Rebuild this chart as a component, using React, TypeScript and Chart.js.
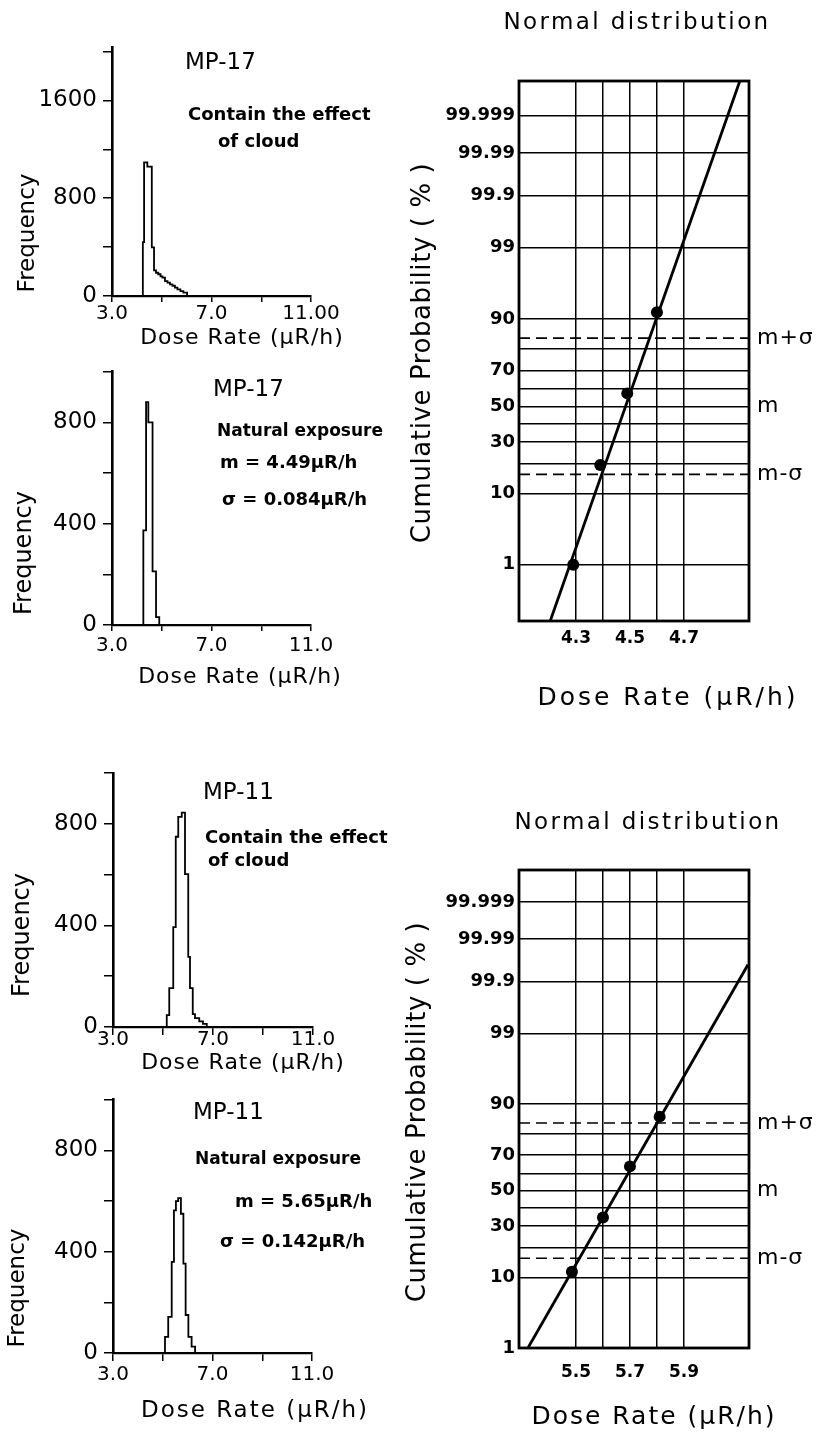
import React, { useEffect, useRef } from 'react';
import { Chart, registerables, Scale } from 'chart.js';

const FONT = '"DejaVu Sans", "Liberation Sans", Arial, sans-serif';

// ---------------- Histogram data (bin edges in μR/h, counts per bin) ----------------
const mp17CloudEdges = [4.24, 4.29, 4.42, 4.6, 4.69, 4.77, 4.86, 4.95, 5.03, 5.13, 5.23, 5.33, 5.43, 5.53, 5.63, 5.75, 5.87, 6.02, 6.17];
const mp17CloudCounts = [54, 440, 1093, 1058, 398, 210, 190, 178, 160, 150, 122, 110, 95, 84, 68, 55, 40, 28];

const mp17NaturalEdges = [4.26, 4.37, 4.46, 4.63, 4.77, 4.9, 5.06];
const mp17NaturalCounts = [25, 374, 880, 800, 212, 31];

const mp11CloudEdges = [5.15, 5.25, 5.41, 5.51, 5.61, 5.75, 5.88, 6.01, 6.08, 6.19, 6.28, 6.45, 6.6, 6.75, 6.88];
const mp11CloudCounts = [21, 47, 153, 393, 749, 827, 844, 602, 276, 153, 51, 35, 22, 12];

const mp11NaturalEdges = [5.09, 5.22, 5.36, 5.45, 5.53, 5.62, 5.73, 5.83, 5.92, 6.03, 6.16, 6.3, 6.5];
const mp11NaturalCounts = [20, 64, 143, 360, 563, 600, 612, 550, 353, 150, 64, 25];

const histXTicks = [3, 5, 7, 9, 11];
const histXLabelsFirst = ['3.0', '', '7.0', '', '11.00'];
const histXLabels = ['3.0', '', '7.0', '', '11.0'];
const histYTicksLarge = [0, 400, 800, 1200, 1600, 2000];
const histYLabelsLarge = ['0', '', '800', '', '1600', ''];
const histYTicksSmall = [0, 200, 400, 600, 800, 1000];
const histYLabelsSmall = ['0', '', '400', '', '800', ''];

// ---------------- Normal probability plots ----------------
const probGrid = [1, 10, 20, 30, 40, 50, 60, 70, 80, 90, 99, 99.9, 99.99, 99.999];
const probLabels = ['1', '10', '', '30', '', '50', '', '70', '', '90', '99', '99.9', '99.99', '99.999'];

const mp17DoseGrid = [4.3, 4.4, 4.5, 4.6, 4.7];
const mp17DoseLabels = ['4.3', '', '4.5', '', '4.7'];
const mp11DoseGrid = [5.5, 5.6, 5.7, 5.8, 5.9];
const mp11DoseLabels = ['5.5', '', '5.7', '', '5.9'];

const mp17PointDose = [4.29, 4.39, 4.49, 4.6];
const mp17PointPct = [1.0, 19.4, 57.5, 91.6];
const mp17FitDose = [4.204, 4.907];
const mp17FitPct = [0.079, 99.99991];

const mp11PointDose = [5.485, 5.6, 5.7, 5.81];
const mp11PointPct = [11.5, 34.5, 64.0, 86.3];
const mp11FitDose = [5.322, 6.137];
const mp11FitPct = [1.0, 99.958];

const sigmaDashPct = [15.87, 84.13];
const sigmaBandPct = [15.87, 50, 84.13];
const sigmaBandLabels = ['m-σ', 'm', 'm+σ'];

// ---------------- helpers ----------------
function probit(pct: number): number {
  let p = pct / 100;
  p = Math.min(Math.max(p, 1e-12), 1 - 1e-12);
  const a = [-3.969683028665376e1, 2.209460984245205e2, -2.759285104469687e2, 1.38357751867269e2, -3.066479806614716e1, 2.506628277459239];
  const b = [-5.447609879822406e1, 1.615858368580409e2, -1.556989798598866e2, 6.680131188771972e1, -1.328068155288572e1];
  const c = [-7.784894002430293e-3, -3.223964580411365e-1, -2.400758277161838, -2.549732539343734, 4.374664141464968, 2.938163982698783];
  const d = [7.784695709041462e-3, 3.224671290700398e-1, 2.445134137142996, 3.754408661907416];
  const plow = 0.02425;
  if (p < plow) {
    const q = Math.sqrt(-2 * Math.log(p));
    return (((((c[0] * q + c[1]) * q + c[2]) * q + c[3]) * q + c[4]) * q + c[5]) / ((((d[0] * q + d[1]) * q + d[2]) * q + d[3]) * q + 1);
  }
  if (p <= 1 - plow) {
    const q = p - 0.5;
    const r = q * q;
    return ((((((a[0] * r + a[1]) * r + a[2]) * r + a[3]) * r + a[4]) * r + a[5]) * q) / (((((b[0] * r + b[1]) * r + b[2]) * r + b[3]) * r + b[4]) * r + 1);
  }
  const q = Math.sqrt(-2 * Math.log(1 - p));
  return -(((((c[0] * q + c[1]) * q + c[2]) * q + c[3]) * q + c[4]) * q + c[5]) / ((((d[0] * q + d[1]) * q + d[2]) * q + d[3]) * q + 1);
}

function normCdf(z: number): number {
  const t = 1 / (1 + 0.2316419 * Math.abs(z));
  const dd = 0.3989423 * Math.exp((-z * z) / 2);
  const pr = dd * t * (0.3193815 + t * (-0.3565638 + t * (1.781478 + t * (-1.821256 + t * 1.330274))));
  return z > 0 ? 1 - pr : pr;
}

class ProbitScale extends (Scale as any) {
  static id = 'probit';
  static defaults = {};
  determineDataLimits() {
    this.min = probit(this.options.min);
    this.max = probit(this.options.max);
  }
  buildTicks() {
    return probGrid.map((v) => ({ value: v }));
  }
  getLabelForValue(v: number) {
    return String(v);
  }
  getPixelForValue(v: number) {
    return this.getPixelForDecimal((probit(v) - this.min) / (this.max - this.min));
  }
  getValueForPixel(px: number) {
    const z = this.min + this.getDecimalForPixel(px) * (this.max - this.min);
    return 100 * normCdf(z);
  }
}

Chart.register(...registerables, ProbitScale as any);

type Box = { x: number; y: number; w: number; h: number };
type Area = { left: number; top: number; right: number; bottom: number };
type Txt = { text: string; x: number; y: number; size: number; bold?: boolean; align?: CanvasTextAlign; rot?: boolean; ls?: number };

function layoutFor(box: Box, area: Area) {
  return {
    padding: { left: 0, top: area.top - box.y, right: box.x + box.w - area.right, bottom: 0 },
    yWidth: area.left - box.x,
    xHeight: box.y + box.h - area.bottom,
  };
}

function textsPlugin(items: Txt[], box: Box) {
  return {
    id: 'texts',
    afterDraw(chart: any) {
      const ctx: CanvasRenderingContext2D = chart.ctx;
      items.forEach((it) => {
        ctx.save();
        ctx.fillStyle = '#000';
        ctx.font = `${it.bold ? 'bold ' : ''}${it.size}px ${FONT}`;
        (ctx as any).letterSpacing = `${it.ls || 0}px`;
        ctx.textAlign = it.align || 'left';
        ctx.textBaseline = 'middle';
        ctx.translate(it.x - box.x, it.y - box.y);
        if (it.rot) ctx.rotate(-Math.PI / 2);
        ctx.fillText(it.text, 0, 0);
        ctx.restore();
      });
    },
  };
}

type HistSpec = {
  box: Box; area: Area; edges: number[]; counts: number[]; yMax: number;
  yTicks: number[]; yLabels: string[]; xLabels: string[]; xTick: number; xPad: number; texts: Txt[];
};

function histConfig(s: HistSpec): any {
  const L = layoutFor(s.box, s.area);
  const pts = [
    { x: s.edges[0], y: 0 },
    ...s.counts.map((c, i) => ({ x: s.edges[i], y: c })),
    { x: s.edges[s.edges.length - 1], y: 0 },
  ];
  return {
    type: 'line',
    data: { datasets: [{ data: pts, stepped: 'after', borderColor: '#000', borderWidth: 1.8, pointRadius: 0, fill: false }] },
    options: {
      animation: false,
      responsive: false,
      events: [],
      layout: { padding: L.padding },
      plugins: { legend: { display: false }, tooltip: { enabled: false } },
      scales: {
        x: {
          type: 'linear', min: 3, max: 11,
          afterBuildTicks: (sc: any) => { sc.ticks = histXTicks.map((v) => ({ value: v })); },
          afterFit: (sc: any) => { sc.height = L.xHeight; },
          ticks: { autoSkip: false, maxRotation: 0, minRotation: 0, padding: s.xPad, color: '#000', font: { family: FONT, size: 20 }, callback: (_v: any, i: number) => s.xLabels[i] },
          grid: { drawOnChartArea: false, drawTicks: true, tickLength: s.xTick, color: '#000', lineWidth: 1.5 },
          border: { display: true, color: '#000', width: 2.2 },
        },
        y: {
          type: 'linear', min: 0, max: s.yMax,
          afterBuildTicks: (sc: any) => { sc.ticks = s.yTicks.map((v) => ({ value: v })); },
          afterFit: (sc: any) => { sc.width = L.yWidth; },
          ticks: { autoSkip: false, padding: 6, color: '#000', font: { family: FONT, size: 23 }, callback: (_v: any, i: number) => s.yLabels[i] },
          grid: { drawOnChartArea: false, drawTicks: true, tickLength: 9, color: '#000', lineWidth: 1.5 },
          border: { display: true, color: '#000', width: 2.6 },
        },
      },
    },
    plugins: [textsPlugin(s.texts, s.box)],
  };
}

type ProbSpec = {
  box: Box; area: Area; xMin: number; xMax: number; xGrid: number[]; xLabels: string[]; xPad: number;
  yMinPct: number; yMaxPct: number; ptDose: number[]; ptPct: number[]; fitDose: number[]; fitPct: number[]; texts: Txt[];
};

const framePlugin = {
  id: 'frame',
  afterDatasetsDraw(chart: any) {
    const { left, top, right, bottom } = chart.chartArea;
    const ctx: CanvasRenderingContext2D = chart.ctx;
    ctx.save();
    ctx.strokeStyle = '#000';
    ctx.lineWidth = 2.8;
    ctx.strokeRect(left, top, right - left, bottom - top);
    ctx.restore();
  },
};

const sigmaLabelPlugin = {
  id: 'sigmaLabels',
  afterDraw(chart: any) {
    const ys = chart.scales.y;
    const ctx: CanvasRenderingContext2D = chart.ctx;
    ctx.save();
    ctx.fillStyle = '#000';
    ctx.font = `22px ${FONT}`;
    (ctx as any).letterSpacing = '1px';
    ctx.textAlign = 'left';
    ctx.textBaseline = 'middle';
    sigmaBandPct.forEach((p, i) => ctx.fillText(sigmaBandLabels[i], chart.chartArea.right + 8, ys.getPixelForValue(p)));
    ctx.restore();
  },
};

function probConfig(s: ProbSpec): any {
  const L = layoutFor(s.box, s.area);
  return {
    type: 'line',
    data: {
      datasets: [
        { data: s.ptDose.map((x, i) => ({ x, y: s.ptPct[i] })), showLine: false, pointRadius: 6, pointBackgroundColor: '#000', pointBorderColor: '#000', pointBorderWidth: 0 },
        { data: s.fitDose.map((x, i) => ({ x, y: s.fitPct[i] })), borderColor: '#000', borderWidth: 2.8, pointRadius: 0, fill: false },
        ...sigmaDashPct.map((p) => ({
          data: [{ x: s.xMin, y: p }, { x: s.xMax, y: p }],
          borderColor: '#000', borderWidth: 1.6, borderDash: [11, 6], pointRadius: 0, fill: false,
        })),
      ],
    },
    options: {
      animation: false,
      responsive: false,
      events: [],
      layout: { padding: L.padding },
      plugins: { legend: { display: false }, tooltip: { enabled: false } },
      scales: {
        x: {
          type: 'linear', min: s.xMin, max: s.xMax,
          afterBuildTicks: (sc: any) => { sc.ticks = s.xGrid.map((v) => ({ value: v })); },
          afterFit: (sc: any) => { sc.height = L.xHeight; },
          ticks: { autoSkip: false, maxRotation: 0, minRotation: 0, padding: s.xPad, color: '#000', font: { family: FONT, size: 17, weight: 'bold' }, callback: (_v: any, i: number) => s.xLabels[i] },
          grid: { drawOnChartArea: true, drawTicks: false, color: '#000', lineWidth: 1.5 },
          border: { display: false },
        },
        y: {
          type: 'probit', min: s.yMinPct, max: s.yMaxPct,
          afterFit: (sc: any) => { sc.width = L.yWidth; },
          ticks: { autoSkip: false, padding: 4, color: '#000', font: { family: FONT, size: 18, weight: 'bold' }, callback: (_v: any, i: number) => probLabels[i] },
          grid: { drawOnChartArea: true, drawTicks: false, color: '#000', lineWidth: 1.5 },
          border: { display: false },
        },
      },
    },
    plugins: [framePlugin, sigmaLabelPlugin, textsPlugin(s.texts, s.box)],
  };
}

// ---------------- panel specs ----------------
const P1: HistSpec = {
  box: { x: 0, y: 28, w: 400, h: 324 }, area: { left: 112, top: 44, right: 311, bottom: 296 },
  edges: mp17CloudEdges, counts: mp17CloudCounts, yMax: 2030, yTicks: histYTicksLarge, yLabels: histYLabelsLarge,
  xLabels: histXLabelsFirst, xTick: 6, xPad: 0,
  texts: [
    { text: 'Frequency', x: 28, y: 233, size: 23, rot: true, align: 'center' },
    { text: 'Dose Rate (μR/h)', x: 242, y: 338, size: 22, ls: 1, align: 'center' },
    { text: 'MP-17', x: 185, y: 63, size: 23 },
    { text: 'Contain the effect', x: 188, y: 115, size: 18, bold: true },
    { text: 'of cloud', x: 218, y: 142, size: 18, bold: true },
  ],
};

const P2: HistSpec = {
  box: { x: 0, y: 352, w: 400, h: 340 }, area: { left: 112, top: 370, right: 311, bottom: 625 },
  edges: mp17NaturalEdges, counts: mp17NaturalCounts, yMax: 1000, yTicks: histYTicksSmall, yLabels: histYLabelsSmall,
  xLabels: histXLabels, xTick: 6, xPad: 3,
  texts: [
    { text: 'Frequency', x: 25, y: 553, size: 24, rot: true, align: 'center' },
    { text: 'Dose Rate (μR/h)', x: 240, y: 677, size: 22, ls: 1, align: 'center' },
    { text: 'MP-17', x: 213, y: 390, size: 23 },
    { text: 'Natural exposure', x: 217, y: 432, size: 17, bold: true },
    { text: 'm = 4.49μR/h', x: 220, y: 463, size: 18, bold: true },
    { text: 'σ = 0.084μR/h', x: 222, y: 500, size: 18, bold: true },
  ],
};

const P5: HistSpec = {
  box: { x: 0, y: 752, w: 400, h: 328 }, area: { left: 113, top: 773, right: 313, bottom: 1027 },
  edges: mp11CloudEdges, counts: mp11CloudCounts, yMax: 1000, yTicks: histYTicksSmall, yLabels: histYLabelsSmall,
  xLabels: histXLabels, xTick: 8, xPad: -7,
  texts: [
    { text: 'Frequency', x: 23, y: 935, size: 24, rot: true, align: 'center' },
    { text: 'Dose Rate (μR/h)', x: 243, y: 1063, size: 22, ls: 1, align: 'center' },
    { text: 'MP-11', x: 203, y: 793, size: 23 },
    { text: 'Contain the effect', x: 205, y: 838, size: 18, bold: true },
    { text: 'of cloud', x: 208, y: 861, size: 18, bold: true },
  ],
};

const P6: HistSpec = {
  box: { x: 0, y: 1080, w: 400, h: 352 }, area: { left: 113, top: 1099, right: 312, bottom: 1353 },
  edges: mp11NaturalEdges, counts: mp11NaturalCounts, yMax: 1000, yTicks: histYTicksSmall, yLabels: histYLabelsSmall,
  xLabels: histXLabels, xTick: 8, xPad: 2,
  texts: [
    { text: 'Frequency', x: 18, y: 1288, size: 23, rot: true, align: 'center' },
    { text: 'Dose Rate (μR/h)', x: 255, y: 1411, size: 23, ls: 2, align: 'center' },
    { text: 'MP-11', x: 193, y: 1113, size: 23 },
    { text: 'Natural exposure', x: 195, y: 1160, size: 17, bold: true },
    { text: 'm = 5.65μR/h', x: 235, y: 1202, size: 18, bold: true },
    { text: 'σ = 0.142μR/h', x: 220, y: 1242, size: 18, bold: true },
  ],
};

const P3: ProbSpec = {
  box: { x: 400, y: 0, w: 427, h: 720 }, area: { left: 519, top: 81, right: 749, bottom: 621 },
  xMin: 4.089, xMax: 4.941, xGrid: mp17DoseGrid, xLabels: mp17DoseLabels, xPad: 7,
  yMinPct: 0.081, yMaxPct: 99.99991,
  ptDose: mp17PointDose, ptPct: mp17PointPct, fitDose: mp17FitDose, fitPct: mp17FitPct,
  texts: [
    { text: 'Normal distribution', x: 637, y: 23, size: 23, ls: 2.4, align: 'center' },
    { text: 'Cumulative Probability ( % )', x: 423, y: 353, size: 26, ls: 0.6, rot: true, align: 'center' },
    { text: 'Dose Rate (μR/h)', x: 668, y: 698, size: 25, ls: 3, align: 'center' },
  ],
};

const P4: ProbSpec = {
  box: { x: 400, y: 780, w: 427, h: 652 }, area: { left: 519, top: 870, right: 749, bottom: 1348 },
  xMin: 5.289, xMax: 6.141, xGrid: mp11DoseGrid, xLabels: mp11DoseLabels, xPad: 14,
  yMinPct: 1.0, yMaxPct: 99.999893,
  ptDose: mp11PointDose, ptPct: mp11PointPct, fitDose: mp11FitDose, fitPct: mp11FitPct,
  texts: [
    { text: 'Normal distribution', x: 648, y: 823, size: 23, ls: 2.4, align: 'center' },
    { text: 'Cumulative Probability ( % )', x: 418, y: 1112, size: 26, ls: 0.6, rot: true, align: 'center' },
    { text: 'Dose Rate (μR/h)', x: 654, y: 1417, size: 25, ls: 2, align: 'center' },
  ],
};

function ChartCanvas({ box, make }: { box: Box; make: () => any }) {
  const ref = useRef<HTMLCanvasElement | null>(null);
  useEffect(() => {
    if (!ref.current) return;
    const chart = new Chart(ref.current, make());
    return () => chart.destroy();
  }, []);
  return (
    <canvas
      ref={ref}
      width={box.w}
      height={box.h}
      style={{ position: 'absolute', left: box.x, top: box.y, width: box.w, height: box.h }}
    />
  );
}

export default function App() {
  return (
    <div style={{ position: 'absolute', left: 0, top: 0, width: 827, height: 1432, background: '#fff', overflow: 'hidden' }}>
      <ChartCanvas box={P1.box} make={() => histConfig(P1)} />
      <ChartCanvas box={P2.box} make={() => histConfig(P2)} />
      <ChartCanvas box={P5.box} make={() => histConfig(P5)} />
      <ChartCanvas box={P6.box} make={() => histConfig(P6)} />
      <ChartCanvas box={P3.box} make={() => probConfig(P3)} />
      <ChartCanvas box={P4.box} make={() => probConfig(P4)} />
    </div>
  );
}
